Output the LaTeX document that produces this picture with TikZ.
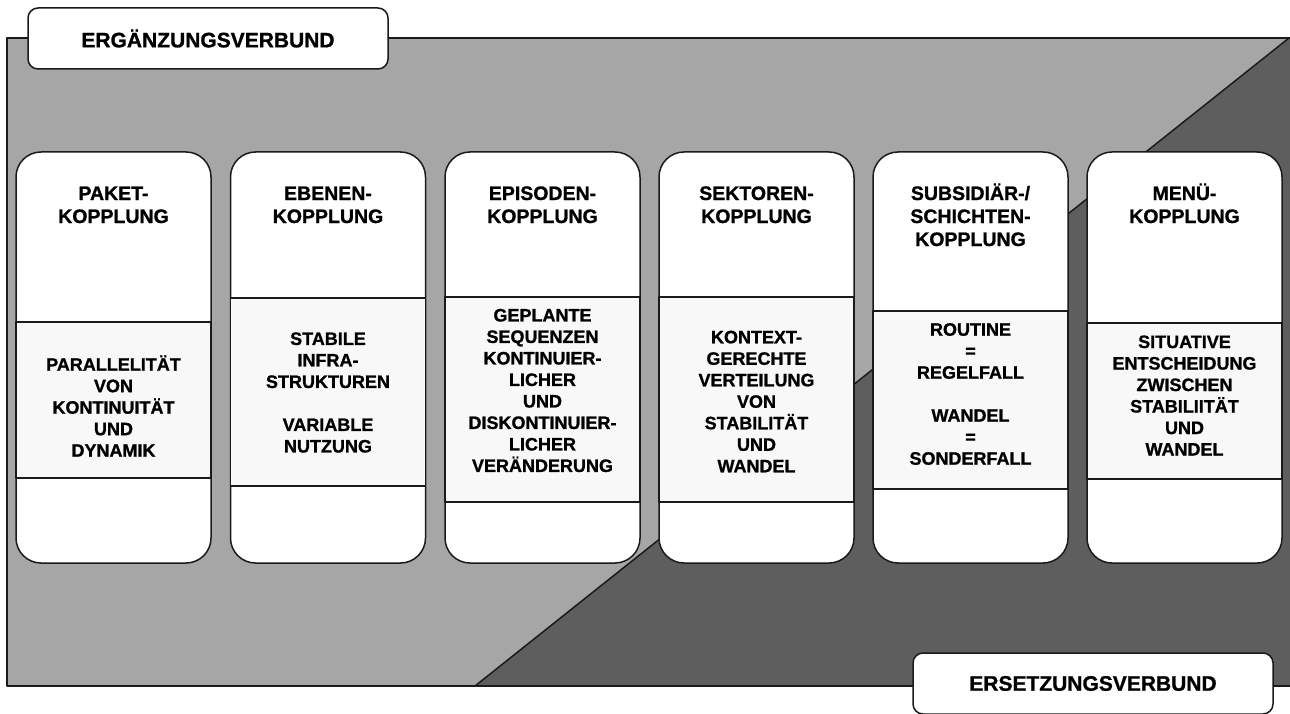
\documentclass[tikz,border=0pt]{standalone}
\usepackage{fontspec}
\setmainfont{Liberation Sans}[BoldFont={Liberation Sans Bold}, BoldFeatures={FakeBold=1}]
\definecolor{lightg}{HTML}{A6A6A6}
\definecolor{darkg}{HTML}{5E5E5E}
\definecolor{panel}{HTML}{F8F8F8}
\definecolor{edge}{HTML}{1A1A1A}
\newcommand{\colshape}[3]{%
  \path[colbox] (#1,152) rectangle ++(195,411);
  \path[innerbox] (#1,#2) rectangle (#1+195,#3);
}
\begin{document}
\begin{tikzpicture}[x=1pt,y=-1pt,line join=round,
  colbox/.style={draw=edge, line width=1.5pt, fill=white, rounded corners=25pt},
  innerbox/.style={draw=edge, line width=1.5pt, fill=panel},
  titletext/.style={font=\fontsize{19.5}{23}\selectfont\bfseries, align=center, inner sep=0pt, anchor=base},
  bodytext/.style={font=\fontsize{18}{21.5}\selectfont\bfseries, align=center, inner sep=0pt},
  labelbox/.style={draw=edge, line width=1.5pt, fill=white, rounded corners=10pt, minimum width=360pt, minimum height=61pt, inner sep=0pt, font=\fontsize{21}{25}\selectfont\bfseries}]
\fill[white] (0,0) rectangle (1290,714);
\useasboundingbox (0,0) rectangle (1290,714);
% outer field
\fill[lightg] (7,38) rectangle (1290,686);
\fill[darkg] (1290,38) -- (475,686) -- (1290,686) -- cycle;
\draw[edge, line width=1.5pt] (1290,38) -- (7,38) -- (7,686) -- (1290,686);
\draw[edge, line width=1.5pt] (1289,38) -- (475,686);
% columns
\colshape{16}{322}{478}
\colshape{230.5}{298}{486}
\colshape{445}{297}{502}
\colshape{659}{297}{502}
\colshape{873}{311}{489}
\colshape{1087}{323}{479}
% titles (base = baseline of last line)
\node[titletext] (t1) at (113.5,223) {PAKET-\\KOPPLUNG};
\node[titletext] (t2) at (328,223) {EBENEN-\\KOPPLUNG};
\node[titletext] (t3) at (542.5,223) {EPISODEN-\\KOPPLUNG};
\node[titletext] (t4) at (756.5,223) {SEKTOREN-\\KOPPLUNG};
\node[titletext] (t5) at (970.5,246) {SUBSIDIÄR-/\\SCHICHTEN-\\KOPPLUNG};
\node[titletext] (t6) at (1184.5,223) {MENÜ-\\KOPPLUNG};
% body texts
\node[bodytext] (b1) at (113.5,406) {PARALLELITÄT\\VON\\KONTINUITÄT\\UND\\DYNAMIK};
\node[bodytext] (b2) at (328,392.5) {STABILE\\INFRA-\\STRUKTUREN\\[21.5pt]VARIABLE\\NUTZUNG};
\node[bodytext] (b3) at (542.5,390.5) {GEPLANTE\\SEQUENZEN\\KONTINUIER-\\LICHER\\UND\\DISKONTINUIER-\\LICHER\\VERÄNDERUNG};
\node[bodytext] (b4) at (756.5,401.5) {KONTEXT-\\GERECHTE\\VERTEILUNG\\VON\\STABILITÄT\\UND\\WANDEL};
\node[bodytext] (b5) at (970.5,394) {ROUTINE\\=\\REGELFALL\\[21.5pt]WANDEL\\=\\SONDERFALL};
\node[bodytext] (b6) at (1184.5,395.5) {SITUATIVE\\ENTSCHEIDUNG\\ZWISCHEN\\STABILIITÄT\\UND\\WANDEL};
% labels
\node[labelbox] (erg) at (208,38.5) {ERGÄNZUNGSVERBUND};
\node[labelbox] (ers) at (1093,683.5) {ERSETZUNGSVERBUND};
\end{tikzpicture}
\end{document}
